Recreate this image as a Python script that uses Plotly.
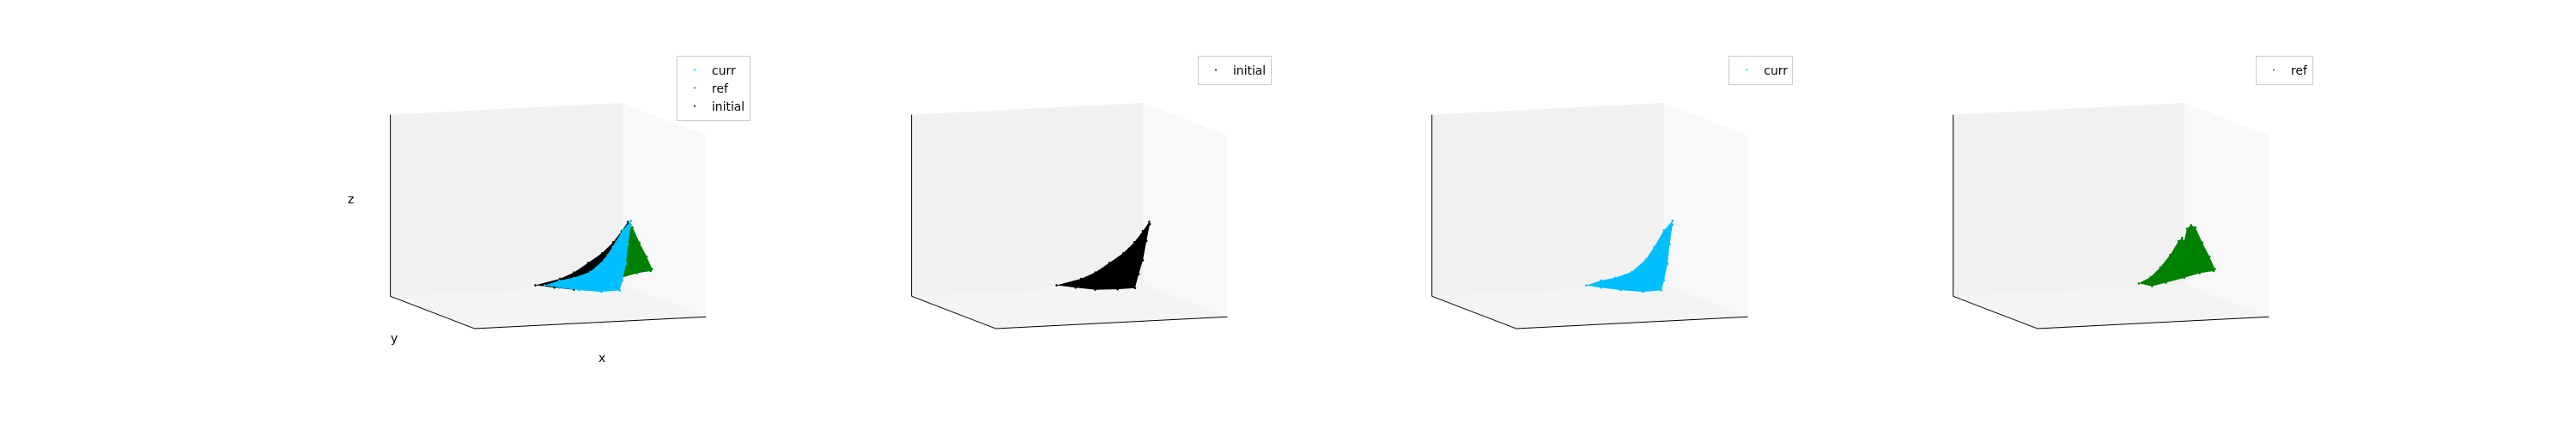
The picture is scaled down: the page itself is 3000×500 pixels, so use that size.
import plotly.graph_objects as go

# values, in box-normalised units (0..1 on every axis)
initial_x = [.448,.5543,.6151,.6760,.7359,.7841,.8209,.8479,.8508,.8363,.8209,.8025,.7870,.7117,.6151,.5301]
initial_z = [.1191,.1480,.1786,.2278,.2771,.3344,.3933,.4419,.4294,.3382,.2324,.1572,.0817,.0797,.0836,.1007]
initial_y = [.51] * len(initial_x)

curr_x = [.8537,.8170,.7745,.7387,.6779,.6054,.5446,.4808,.5446,.6296,.7262,.8054,.8170,.8324,.8411,.8537]
curr_z = [.4519,.4013,.3124,.2462,.1817,.1534,.1425,.1198,.1027,.0841,.0680,.0713,.1255,.2163,.3227,.4290]
curr_y = [.49] * len(curr_x)

ref_x = [.6199,.6711,.7127,.7552,.7919,.8073,.8160,.8276,.8460,.8643,.8943,.9252,.9493,.9426,.8827,.8160,.7368,.6769]
ref_z = [.1201,.1516,.2020,.2680,.3418,.3590,.3400,.4081,.4266,.4129,.3267,.2477,.1770,.1669,.1589,.1379,.1161,.1007]
ref_y = [.50] * len(ref_x)

SERIES = {
    "curr": (curr_x, curr_y, curr_z, "#00BFFF"),
    "ref": (ref_x, ref_y, ref_z, "#008000"),
    "initial": (initial_x, initial_y, initial_z, "#000000"),
}
PANELS = [["curr", "ref", "initial"], ["initial"], ["curr"], ["ref"]]
PANEL_LEFT = [378, 984.5, 1591, 2197.5]
LEGEND_RIGHT = [866, 1473, 2080.3, 2686]
AXIS_LABELS = ["x", "y", "z"]
AXIS_LABEL_PX = [(693, 409), (451, 386), (400, 224)]
W, H = 3000, 500
EYE = dict(x=-0.436, y=-1.198, z=0.18)


def triangulate(px, pz):
    """Ear clipping of the outline so a concave cloud stays concave."""
    idx = list(range(len(px)))
    area = sum(px[a] * pz[(a + 1) % len(px)] - px[(a + 1) % len(px)] * pz[a] for a in idx)
    sign = 1 if area > 0 else -1

    def cross(a, b, c):
        return (px[b] - px[a]) * (pz[c] - pz[a]) - (pz[b] - pz[a]) * (px[c] - px[a])

    tris = []
    while len(idx) > 3:
        for n in range(len(idx)):
            a, b, c = idx[n - 1], idx[n], idx[(n + 1) % len(idx)]
            if sign * cross(a, b, c) <= 0:
                continue
            if any(sign * cross(a, b, p) > 0 and sign * cross(b, c, p) > 0 and sign * cross(c, a, p) > 0
                   for p in idx if p not in (a, b, c)):
                continue
            tris.append((a, b, c))
            idx.pop(n)
            break
        else:
            break
    if len(idx) == 3:
        tris.append(tuple(idx))
    return tris


fig = go.Figure()
layout = dict(width=W, height=H, margin=dict(l=0, r=0, t=0, b=0), paper_bgcolor="white",
              font=dict(family="DejaVu Sans", size=13.9, color="black"))

for i, names in enumerate(PANELS):
    sid = "scene" if i == 0 else f"scene{i+1}"
    lid = "legend" if i == 0 else f"legend{i+1}"
    for name in names:
        x, y, z, c = SERIES[name]
        tris = triangulate(x, z)
        fig.add_trace(go.Mesh3d(
            x=x, y=y, z=z, i=[t[0] for t in tris], j=[t[1] for t in tris], k=[t[2] for t in tris],
            color=c, scene=sid, flatshading=True, showlegend=False, hoverinfo="skip", showscale=False,
            lighting=dict(ambient=1, diffuse=0, specular=0, fresnel=0, roughness=1)))
        fig.add_trace(go.Scatter3d(
            x=x, y=y, z=z, name=name, scene=sid, legend=lid,
            mode="markers", marker=dict(size=1.5, color=c, line=dict(width=0)), showlegend=True))

    def ax(bg):
        return dict(range=[0, 1], autorange=False, showgrid=False, zeroline=False,
                    showticklabels=False, ticks="", showspikes=False,
                    showbackground=True, backgroundcolor=bg,
                    showline=True, linecolor="black", linewidth=2,
                    title=dict(text=""))

    left = PANEL_LEFT[i]
    layout[sid] = dict(
        domain=dict(x=[left / W, (left + 505) / W], y=[64.5 / H, 449.5 / H]),
        aspectmode="manual", aspectratio=dict(x=1.49, y=1.49, z=1.11),
        camera=dict(eye=EYE, center=dict(x=0, y=0, z=0), up=dict(x=0, y=0, z=1),
                    projection=dict(type="orthographic")),
        xaxis=ax("#f8f8f8"), yaxis=ax("#f1f1f1"), zaxis=ax("#f4f4f4"))
    layout[lid] = dict(x=LEGEND_RIGHT[i] / W, y=1 - 57 / H, xanchor="right", yanchor="top",
                       bgcolor="rgba(255,255,255,0.8)", bordercolor="#cccccc", borderwidth=1,
                       font=dict(size=13.9), traceorder="normal")

layout["annotations"] = [
    dict(text=t, x=p[0] / W, y=1 - p[1] / H, xref="paper", yref="paper", showarrow=False,
         xanchor="center", yanchor="middle", font=dict(size=13.9))
    for t, p in zip(AXIS_LABELS, AXIS_LABEL_PX)
]
fig.update_layout(**layout)
fig.write_html("out.html")
